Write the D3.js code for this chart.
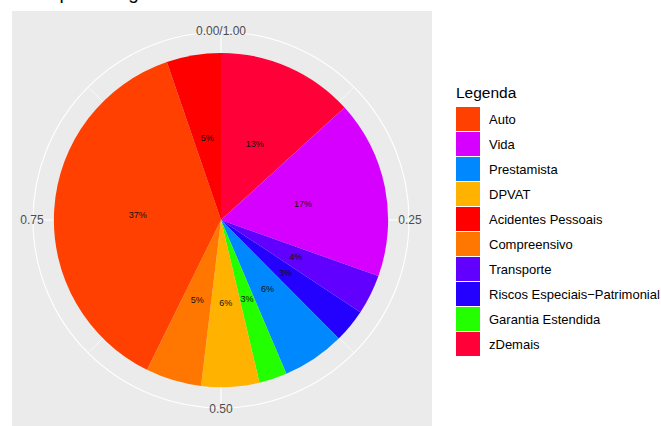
<!DOCTYPE html>
<html>
<head>
<meta charset="utf-8">
<script src="https://cdn.jsdelivr.net/npm/d3@7"></script>
<style>
  body { margin: 0; background: #fff; }
  text { font-family: "Liberation Sans", Arial, sans-serif; }
</style>
</head>
<body>
<svg width="661" height="426"></svg>
<script>
// slices, clockwise from 12 o'clock (as drawn)
var sliceNames = ["zDemais", "Vida", "Transporte", "Riscos Especiais\u2212Patrimonial", "Prestamista",
                  "Garantia Estendida", "DPVAT", "Compreensivo", "Auto", "Acidentes Pessoais"];
var sliceShares = [0.1325, 0.172, 0.0386, 0.0325, 0.0605, 0.027, 0.056, 0.054, 0.3745, 0.0525];
var sliceLabels = ["13%", "17%", "4%", "3%", "6%", "3%", "6%", "5%", "37%", "5%"];

// legend order
var legendNames = ["Auto", "Vida", "Prestamista", "DPVAT", "Acidentes Pessoais", "Compreensivo",
                   "Transporte", "Riscos Especiais\u2212Patrimonial", "Garantia Estendida", "zDemais"];
var legendColors = ["#ff4000", "#d500ff", "#0088ff", "#ffb200", "#ff0000", "#ff7700",
                    "#6200ff", "#2400ff", "#24ff00", "#ff0038"];

var thetaMajor = [0, 0.25, 0.5, 0.75];
var thetaMinor = [0.125, 0.375, 0.625, 0.875];
var thetaLabels = ["0.00/1.00", "0.25", "0.50", "0.75"];

var svg = d3.select("svg"),
    panel = {x: 12, y: 11, w: 420, h: 415},
    cx = 221, cy = 220;

var color = d3.scaleOrdinal().domain(legendNames).range(legendColors);
var theta = d3.scaleLinear().domain([0, 1]).range([0, 2 * Math.PI]);
var r = d3.scaleLinear().domain([0, 0.45]).range([0, 188]);

// title, mostly cut off above the top edge (as in the source image)
svg.append("text")
    .attr("x", 12).attr("y", -0.8)
    .style("font-size", "19px").attr("fill", "#000")
    .text("Fatia por categoria");

svg.append("rect")
    .attr("x", panel.x).attr("y", panel.y)
    .attr("width", panel.w).attr("height", panel.h)
    .attr("fill", "#ebebeb");

var g = svg.append("g").attr("transform", "translate(" + cx + "," + cy + ")");

function px(t, rr) { return rr * Math.sin(theta(t)); }
function py(t, rr) { return -rr * Math.cos(theta(t)); }

// grid
g.selectAll(".minor").data(thetaMinor).enter().append("line")
    .attr("x1", 0).attr("y1", 0)
    .attr("x2", d => px(d, r(0.45))).attr("y2", d => py(d, r(0.45)))
    .attr("stroke", "#fff").attr("stroke-width", 0.6);
g.selectAll(".major").data(thetaMajor).enter().append("line")
    .attr("x1", 0).attr("y1", 0)
    .attr("x2", d => px(d, r(0.45))).attr("y2", d => py(d, r(0.45)))
    .attr("stroke", "#fff").attr("stroke-width", 1.1);
g.append("circle").attr("r", r(0.45))
    .attr("fill", "none").attr("stroke", "#fff").attr("stroke-width", 1.1);

// pie
var pie = d3.pie().sort(null).value(d => d.v)
    .startAngle(theta(0)).endAngle(theta(1));
var rows = sliceNames.map((n, i) => ({name: n, v: sliceShares[i], lab: sliceLabels[i]}));
var arcs = pie(rows);

var arc = d3.arc().innerRadius(0).outerRadius(r(0.4));
g.selectAll(".slice").data(arcs).enter().append("path")
    .attr("d", arc)
    .attr("fill", d => color(d.data.name));

g.selectAll(".lab").data(arcs).enter().append("text")
    .attr("x", d => r(0.2) * Math.sin((d.startAngle + d.endAngle) / 2))
    .attr("y", d => -r(0.2) * Math.cos((d.startAngle + d.endAngle) / 2))
    .attr("text-anchor", "middle").attr("dominant-baseline", "central")
    .style("font-size", "9px").attr("fill", "#111")
    .text(d => d.data.lab);

// theta axis labels
g.selectAll(".tl").data(thetaMajor).enter().append("text")
    .attr("x", d => px(d, r(0.45) + 1))
    .attr("y", d => py(d, r(0.45) + 1))
    .attr("text-anchor", "middle").attr("dominant-baseline", "central")
    .style("font-size", "12px").attr("fill", "#4d4d4d")
    .text((d, i) => thetaLabels[i]);

// legend
var lg = svg.append("g").attr("transform", "translate(456,0)");
lg.append("text").attr("x", 0).attr("y", 97.5)
    .style("font-size", "15.5px").attr("fill", "#000").text("Legenda");
var item = lg.selectAll(".item").data(legendNames).enter().append("g")
    .attr("transform", (d, i) => "translate(0," + (107 + 25 * i) + ")");
item.append("rect").attr("width", 24).attr("height", 24)
    .attr("fill", d => color(d));
item.append("text").attr("x", 33).attr("y", 12)
    .attr("dominant-baseline", "central")
    .style("font-size", "13px").attr("fill", "#000")
    .text(d => d);
</script>
</body>
</html>
